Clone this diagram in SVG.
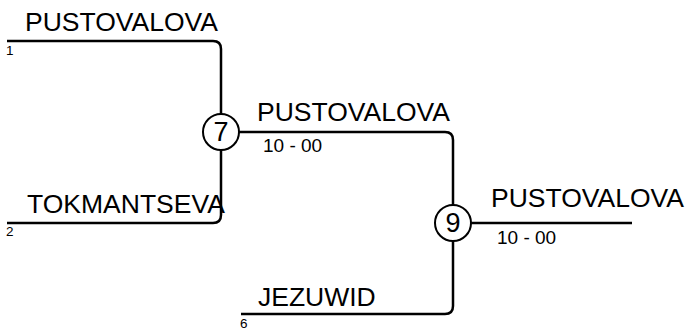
<svg xmlns="http://www.w3.org/2000/svg" width="691" height="329" viewBox="0 0 691 329">
<style>
.ln{fill:none;stroke:#000;stroke-width:2.5}
.nd{fill:#fff;stroke:#000;stroke-width:2}
.nm{font-family:"Liberation Sans",Arial,sans-serif;font-size:26.5px;fill:#000}
.sc{font-family:"Liberation Sans",Arial,sans-serif;font-size:19px;fill:#000}
.sd{font-family:"Liberation Sans",Arial,sans-serif;font-size:13.5px;fill:#000}
.cn{font-family:"Liberation Sans",Arial,sans-serif;font-size:27px;fill:#000;text-anchor:middle}
</style>
<rect width="691" height="329" fill="#fff"/>
<g id="connectors">
<path class="ln" d="M7,41 H213 Q221,41 221,49 V114"/>
<path class="ln" d="M7,223 H213 Q221,223 221,215 V150"/>
<path class="ln" d="M239,132 H445 Q453,132 453,140 V205"/>
<path class="ln" d="M241,314 H445 Q453,314 453,306 V241"/>
<path class="ln" d="M471,223 H632"/>
</g>
<g id="p1">
<text class="nm" x="25" y="31">PUSTOVALOVA</text>
<text class="sd" x="6" y="55">1</text>
</g>
<g id="p2">
<text class="nm" x="27" y="213">TOKMANTSEVA</text>
<text class="sd" x="6" y="236">2</text>
</g>
<g id="p6">
<text class="nm" x="258" y="306">JEZUWID</text>
<text class="sd" x="240" y="327.5">6</text>
</g>
<g id="m7">
<circle class="nd" cx="221" cy="132" r="18"/>
<text class="cn" x="221" y="141">7</text>
<text class="nm" x="257" y="121">PUSTOVALOVA</text>
<text class="sc" x="263" y="152">10 - 00</text>
</g>
<g id="m9">
<circle class="nd" cx="453" cy="223" r="18"/>
<text class="cn" x="453" y="232">9</text>
<text class="nm" x="491" y="207">PUSTOVALOVA</text>
<text class="sc" x="497" y="244">10 - 00</text>
</g>
</svg>
